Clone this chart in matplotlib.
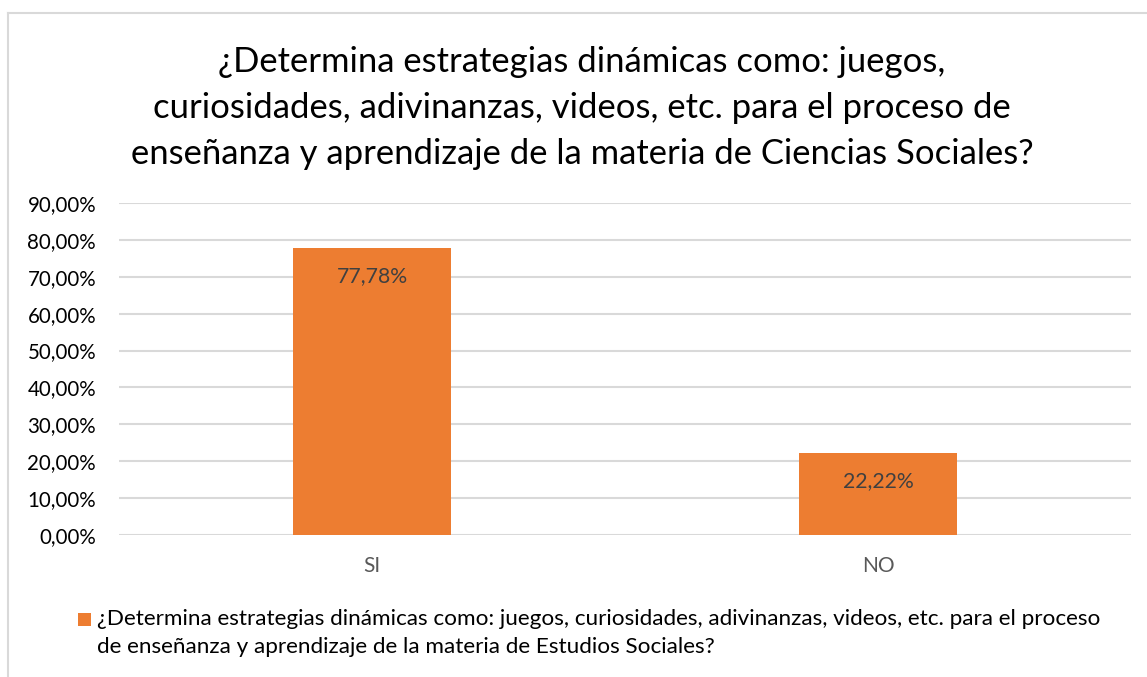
import matplotlib
matplotlib.use("Agg")
import matplotlib.pyplot as plt
from matplotlib.lines import Line2D
from matplotlib.patches import Rectangle
from matplotlib.ticker import FuncFormatter, MultipleLocator

categories = ["SI", "NO"]
values = [77.78, 22.22]
title_lines = [
    "¿Determina estrategias dinámicas como: juegos,",
    "curiosidades, adivinanzas, videos, etc. para el proceso de",
    "enseñanza y aprendizaje de la materia de Ciencias Sociales?",
]
legend_lines = [
    "¿Determina estrategias dinámicas como: juegos, curiosidades, adivinanzas, videos, etc. para el proceso",
    "de enseñanza y aprendizaje de la materia de Estudios Sociales?",
]

plt.rcParams["font.family"] = ["Lato", "DejaVu Sans"]
W, H = 1147, 677
fig = plt.figure(figsize=(W / 100, H / 100), dpi=100)
fig.patch.set_facecolor("white")

bar_color = "#ED7D31"
grid_color = "#D9D9D9"

ax = fig.add_axes([119 / W, (H - 535) / H, (1131 - 119) / W, (535 - 203) / H])
x = list(range(len(categories)))
bars = ax.bar(x, values, width=0.312, color=bar_color, zorder=3)
ax.set_xlim(-0.5, len(categories) - 0.5)
ax.set_ylim(0, 90)
ax.yaxis.set_major_locator(MultipleLocator(10))
ax.yaxis.set_major_formatter(FuncFormatter(lambda v, p: f"{v:.2f}".replace(".", ",") + "%"))
ax.grid(axis="y", color=grid_color, linewidth=1.5, zorder=0)
for s in ax.spines.values():
    s.set_visible(False)
ax.tick_params(axis="both", length=0)
ax.tick_params(axis="y", labelsize=14.8, colors="#000000", pad=16.5)
ax.tick_params(axis="x", labelsize=15, colors="#595959", pad=15)
ax.set_xticks(x)
ax.set_xticklabels(categories)
for b, v in zip(bars, values):
    ax.annotate(f"{v:.2f}".replace(".", ",") + "%", (b.get_x() + b.get_width() / 2, v),
                xytext=(0, -28), textcoords="offset pixels", ha="center", va="center",
                fontsize=15.3, color="#404040", zorder=4)

# title
fig.text(582 / W, 1 - 108 / H, "\n".join(title_lines), ha="center", va="center",
         fontsize=24.9, color="#000000", linespacing=1.53)

# legend (manual)
fig.patches.append(Rectangle((78 / W, 1 - 626 / H), 13 / W, 13 / H, transform=fig.transFigure,
                             facecolor=bar_color, edgecolor="none"))
fig.text(97 / W, 1 - 633 / H, "\n".join(legend_lines), ha="left", va="center",
         fontsize=16.2, color="#000000", linespacing=1.46)

# chart border
fig.add_artist(Line2D([8 / W, 1], [1 - 13 / H, 1 - 13 / H], transform=fig.transFigure,
                      color=grid_color, linewidth=1.5))
fig.add_artist(Line2D([8 / W, 8 / W], [0, 1 - 13 / H], transform=fig.transFigure,
                      color=grid_color, linewidth=1.5))

fig.savefig("out.png", dpi=100)
